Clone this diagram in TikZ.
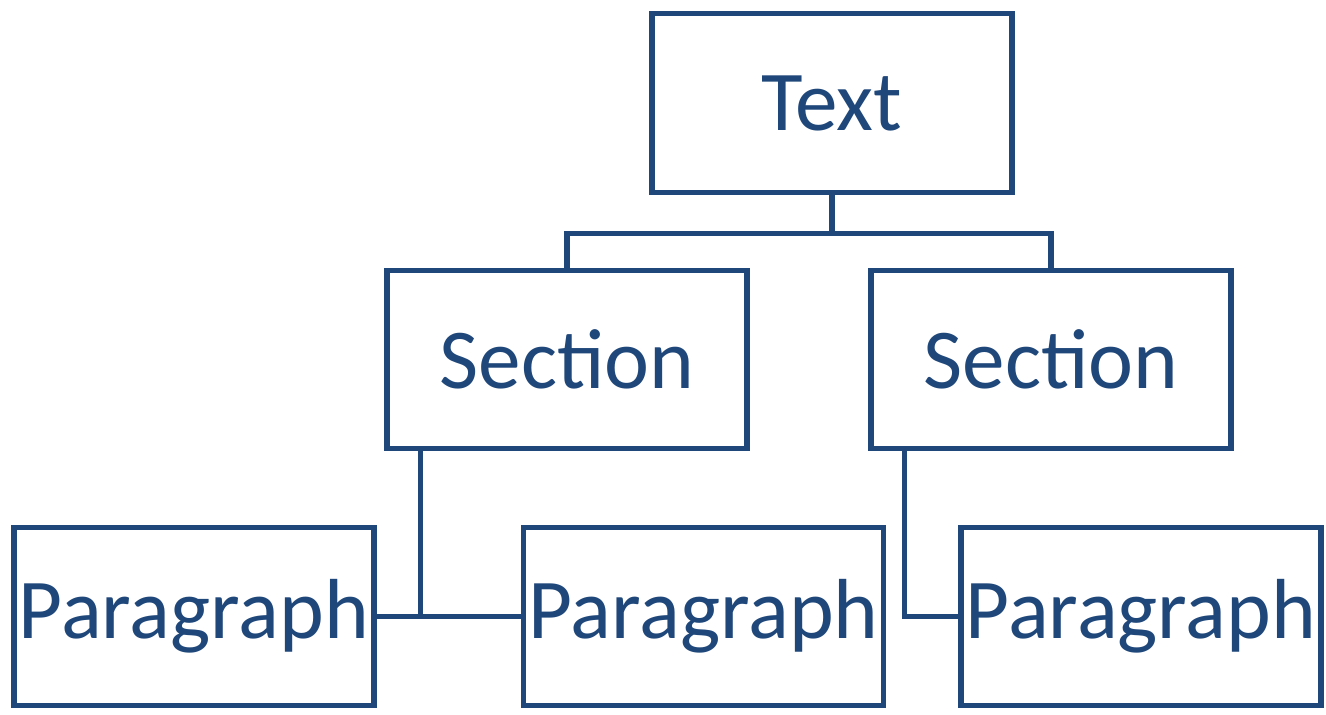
\documentclass[tikz,border=0pt]{standalone}
\usepackage{fontspec}
\setmainfont{Carlito}
\definecolor{boxblue}{RGB}{31,71,122}

\begin{document}
\begin{tikzpicture}[
    box/.style={draw=boxblue, line width=2.9pt, minimum width=7.2cm, minimum height=3.57cm,
                inner sep=0pt, text=boxblue, font=\fontsize{48.5}{58}\selectfont},
    link/.style={draw=boxblue, line width=2.9pt}
  ]
    \useasboundingbox (0,0) rectangle (26.52,-14.28);
    \node[box] (text) at (16.64,-2.06) {Text};
    \node[box] (secl) at (11.34,-7.19) {Section};
    \node[box] (secr) at (21.02,-7.19) {Section};
    \node[box] (parl) at ( 3.88,-12.33) {Paragraph};
    \node[box] (parm) at (14.07,-12.33) {Paragraph};
    \node[box] (parr) at (22.82,-12.33) {Paragraph};
    \draw[link] (text.south) -- ++(0,-0.78) -| (secl.north);
    \draw[link] (text.south) -- ++(0,-0.78) -| (secr.north);
    \draw[link] ([xshift=0.72cm]secl.south west) |- (parm.west);
    \draw[link] (parl.east) -- (parm.west);
    \draw[link] ([xshift=0.72cm]secr.south west) |- (parr.west);
  \end{tikzpicture}
\end{document}
